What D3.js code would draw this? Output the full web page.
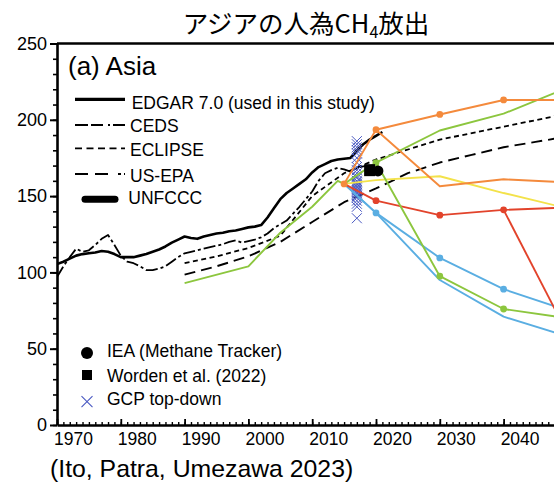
<!DOCTYPE html>
<html>
<head>
<meta charset="utf-8">
<script src="https://cdn.jsdelivr.net/npm/d3@7"></script>
<style>
  body { margin: 0; background: #fff; }
  svg { display: block; }
</style>
</head>
<body>
<svg id="chart" width="554" height="483"></svg>
<script>
// ---- data (Mt CH4 / yr) ----
const edgarYears = d3.range(1970, 2022);
const edgarValues = [105.5, 107, 109, 111, 112, 112.5, 113, 114, 113.5, 112,
  110, 110, 110, 111, 112, 113.5, 115, 117, 119.5, 121.5,
  123.5, 122.5, 122, 123.5, 124.5, 125.5, 126, 127, 127.5, 128.5,
  129.5, 130, 131, 136, 142, 148, 152, 155, 158, 161,
  165.5, 169, 171, 173, 174, 174.5, 175, 180, 184, 187,
  189.5, 192];

const cedsYears = d3.range(1970, 2020);
const cedsValues = [97, 104, 110, 115.5, 113.5, 114.5, 118, 122, 124.5, 118,
  111, 107, 106, 104, 101.5, 101.5, 102.5, 104, 107, 110,
  112.5, 113.5, 114.5, 115.5, 116.5, 117.5, 118.5, 120, 121, 119.5,
  120.5, 121.5, 123, 125.5, 129, 131.5, 134, 138.5, 143, 148,
  153, 160, 165, 167, 168.5, 167.5, 166, 168.5, 169.5, 170];

const eclipseYears = [1990, 1995, 2000, 2005, 2010, 2015, 2020, 2030, 2040, 2050];
const eclipseValues = [106, 110.5, 116, 124, 150, 165, 174, 187, 195.5, 204];

const usepaYears = [1990, 1995, 2000, 2005, 2010, 2015, 2020, 2025, 2030, 2035, 2040, 2045, 2050];
const usepaValues = [98.5, 104, 110.5, 120, 133, 146, 155, 165, 172, 177, 182, 185.5, 189];

const greenHistYears = [1990, 2000, 2005, 2010, 2014, 2015];
const greenHistValues = [93, 104, 126, 143, 160, 158];

// scenario pathways
const orangeUpYears = [2015, 2020, 2030, 2040, 2050];
const orangeUpValues = [158, 193.5, 203.5, 213, 213];
const orangeDownYears = [2020, 2030, 2040, 2050];
const orangeDownValues = [193.5, 156.5, 161, 159];
const greenUpYears = [2015, 2020, 2030, 2040, 2050];
const greenUpValues = [158, 172, 193, 204, 221];
const greenDownYears = [2020, 2030, 2040, 2050];
const greenDownValues = [172, 97.5, 76, 70];
const yellowYears = [2015, 2020, 2030, 2040, 2050];
const yellowValues = [158, 160.5, 163, 152, 142];
const redFlatYears = [2015, 2020, 2030, 2040, 2050];
const redFlatValues = [158, 147, 137.5, 141, 142.5];
const redDownYears = [2040, 2050];
const redDownValues = [141, 60];
const blueUpperYears = [2015, 2020, 2030, 2040, 2050];
const blueUpperValues = [158, 139, 109.5, 89, 75];
const blueLowerYears = [2015, 2020, 2030, 2040, 2050];
const blueLowerValues = [158, 139, 95, 71, 58];

// years that carry a dot marker
const orangeDots = [2015, 2020, 2030, 2040];
const greenUpDots = [2020];
const greenDownDots = [2030, 2040];
const redDots = [2020, 2030, 2040];
const blueDots = [2020, 2030, 2040];

// point estimates
const gcpYear = 2017;
const gcpValues = [186, 184, 182, 180, 178, 175, 172, 169, 167, 165, 163, 162,
  160, 159, 158, 157, 156, 155, 154, 153, 152, 151, 150, 149, 147, 145, 143, 135.5];
const wordenYear = 2019, wordenValue = 167;
const ieaYear = 2020.3, ieaValue = 166.5;
const unfcccYears = [2019, 2020.3];
const unfcccValues = [167, 166.5];

const yTicks = [0, 50, 100, 150, 200, 250];
const xTicks = [1970, 1980, 1990, 2000, 2010, 2020, 2030, 2040];

const legendTop = ["EDGAR 7.0 (used in this study)", "CEDS", "ECLIPSE", "US-EPA", "UNFCCC"];
const legendBottom = ["IEA (Methane Tracker)", "Worden et al. (2022)", "GCP top-down"];

// ---- chart ----
const font = "'Liberation Sans', Arial, Helvetica, sans-serif";
const svg = d3.select("#chart");

const x = d3.scaleLinear().domain([1970, 2047.9]).range([57, 554]);
const y = d3.scaleLinear().domain([0, 250]).range([425, 43.5]);

const zip = (xs, vs) => xs.map((d, i) => [d, vs[i]]);
const line = d3.line().x(d => x(d[0])).y(d => y(d[1]));

svg.append("clipPath").attr("id", "plot")
  .append("rect").attr("x", 57).attr("y", 43).attr("width", 497).attr("height", 383);

const plot = svg.append("g").attr("clip-path", "url(#plot)");

// black inventories
const blackSeries = [
  { pts: zip(cedsYears, cedsValues), dash: "12,3,3,3", w: 1.8 },
  { pts: zip(eclipseYears, eclipseValues), dash: "5,3.5", w: 1.8 },
  { pts: zip(usepaYears, usepaValues), dash: "11,6", w: 1.9 },
  { pts: zip(edgarYears, edgarValues), dash: null, w: 2.6 }
];

// coloured pathways
const colourSeries = [
  { pts: zip(greenHistYears, greenHistValues), c: "#8cc63e" },
  { pts: zip(yellowYears, yellowValues), c: "#f3e24a" },
  { pts: zip(blueLowerYears, blueLowerValues), c: "#5aaee2" },
  { pts: zip(blueUpperYears, blueUpperValues), c: "#5aaee2", dots: blueDots },
  { pts: zip(redDownYears, redDownValues), c: "#e2432b" },
  { pts: zip(redFlatYears, redFlatValues), c: "#e2432b", dots: redDots },
  { pts: zip(greenDownYears, greenDownValues), c: "#8cc63e", dots: greenDownDots },
  { pts: zip(greenUpYears, greenUpValues), c: "#8cc63e", dots: greenUpDots },
  { pts: zip(orangeDownYears, orangeDownValues), c: "#f48a3c" },
  { pts: zip(orangeUpYears, orangeUpValues), c: "#f48a3c", dots: orangeDots }
];

plot.selectAll(".black").data(blackSeries).enter().append("path")
  .attr("d", d => line(d.pts))
  .attr("fill", "none")
  .attr("stroke", "#000")
  .attr("stroke-width", d => d.w)
  .attr("stroke-dasharray", d => d.dash)
  .attr("stroke-linejoin", "round");

// GCP top-down crosses
const cx = x(gcpYear);
plot.selectAll(".gcp").data(gcpValues).enter().append("path")
  .attr("d", v => `M${cx - 5},${y(v) - 5}L${cx + 5},${y(v) + 5}M${cx - 5},${y(v) + 5}L${cx + 5},${y(v) - 5}`)
  .attr("stroke", "#4a59c2")
  .attr("stroke-width", 1)
  .attr("fill", "none");

colourSeries.forEach(s => {
  plot.append("path")
    .attr("d", line(s.pts))
    .attr("fill", "none")
    .attr("stroke", s.c)
    .attr("stroke-width", 1.9)
    .attr("stroke-linejoin", "round");
  if (s.dots) {
    plot.selectAll(null).data(s.pts.filter(p => s.dots.includes(p[0]))).enter()
      .append("circle")
      .attr("cx", d => x(d[0])).attr("cy", d => y(d[1])).attr("r", 3.4)
      .attr("fill", s.c);
  }
});

// UNFCCC / Worden / IEA
plot.append("path")
  .attr("d", line(zip(unfcccYears, unfcccValues)))
  .attr("stroke", "#000").attr("stroke-width", 7).attr("stroke-linecap", "round");
plot.append("rect")
  .attr("x", x(wordenYear) - 5.5).attr("y", y(wordenValue) - 6)
  .attr("width", 11).attr("height", 12).attr("fill", "#000");
plot.append("circle")
  .attr("cx", x(ieaYear)).attr("cy", y(ieaValue)).attr("r", 5.5).attr("fill", "#000");

// ---- axes ----
const yMinor = svg.append("g").attr("transform", "translate(57,0)")
  .call(d3.axisLeft(y).tickValues(d3.range(0, 251, 10)).tickSize(4).tickFormat(""));
yMinor.select(".domain").remove();
yMinor.selectAll("line").attr("stroke-width", 1.6);

const yAxis = svg.append("g").attr("transform", "translate(57,0)")
  .call(d3.axisLeft(y).tickValues(yTicks).tickSize(7).tickSizeOuter(0).tickPadding(3));
yAxis.select(".domain").attr("stroke-width", 2.6);
yAxis.selectAll(".tick line").attr("stroke-width", 2);
yAxis.selectAll("text").style("font-family", font).style("font-size", "18px").attr("fill", "#000");

const xMinor = svg.append("g").attr("transform", "translate(0,425)")
  .call(d3.axisBottom(x).tickValues(d3.range(1970, 2048)).tickSizeInner(-3).tickSizeOuter(0).tickFormat(""));
xMinor.select(".domain").remove();
xMinor.selectAll("line").attr("stroke-width", 1.4);

const xAxis = svg.append("g").attr("transform", "translate(0,425)")
  .call(d3.axisBottom(x).tickValues(xTicks).tickSizeInner(-6).tickSizeOuter(0).tickPadding(8).tickFormat(d3.format("d")));
xAxis.select(".domain").attr("stroke-width", 2.6);
xAxis.selectAll(".tick line").attr("stroke-width", 1.8);
xAxis.selectAll("text").attr("x", 16)
  .style("font-family", font).style("font-size", "17.5px").attr("fill", "#000");

// top frame
svg.append("line")
  .attr("x1", 57).attr("x2", 554).attr("y1", y(250)).attr("y2", y(250))
  .attr("stroke", "#000").attr("stroke-width", 2.6);

// ---- texts ----
const title = svg.append("text")
  .attr("x", 306).attr("y", 33).attr("text-anchor", "middle")
  .style("font-family", "'Noto Sans CJK JP', 'Noto Sans', sans-serif")
  .style("font-size", "25.5px").attr("fill", "#000");
title.append("tspan").text("アジアの人為CH");
title.append("tspan").attr("dy", 5).style("font-size", "16px").text("4");
title.append("tspan").attr("dy", -5).text("放出");

svg.append("text").attr("x", 68).attr("y", 75)
  .style("font-family", font).style("font-size", "26px").text("(a) Asia");

svg.append("text").attr("x", 50).attr("y", 477)
  .style("font-family", font).style("font-size", "24.8px").text("(Ito, Patra, Umezawa 2023)");

// upper legend
const topRows = [
  { ly: 99.3, ty: 109, tx: 131.7, x1: 75, x2: 125, dash: null, w: 3.2, cap: "butt" },
  { ly: 125, ty: 131.7, tx: 130, x1: 75, x2: 125, dash: "13,3,12,5,2,3", w: 1.8, cap: "butt" },
  { ly: 148.3, ty: 156, tx: 130, x1: 75, x2: 125, dash: "7,4.5", w: 1.8, cap: "butt" },
  { ly: 174, ty: 181.7, tx: 130, x1: 75, x2: 125, dash: "13,7,13,10,3,3", w: 1.9, cap: "butt" },
  { ly: 199.3, ty: 204, tx: 128.3, x1: 85, x2: 115, dash: null, w: 7, cap: "round" }
];
legendTop.forEach((label, i) => {
  const r = topRows[i];
  svg.append("line").attr("x1", r.x1).attr("x2", r.x2).attr("y1", r.ly).attr("y2", r.ly)
    .attr("stroke", "#000").attr("stroke-width", r.w)
    .attr("stroke-dasharray", r.dash).attr("stroke-linecap", r.cap);
  svg.append("text").attr("x", r.tx).attr("y", r.ty)
    .style("font-family", font).style("font-size", "17.5px").text(label);
});

// lower legend
const lowRows = [353, 375, 401.7];
const lowText = [357.3, 381.7, 405];
legendBottom.forEach((label, i) => {
  svg.append("text").attr("x", 107).attr("y", lowText[i])
    .style("font-family", font).style("font-size", "17.5px").text(label);
});
svg.append("circle").attr("cx", 87).attr("cy", lowRows[0]).attr("r", 6).attr("fill", "#000");
svg.append("rect").attr("x", 82).attr("y", lowRows[1] - 5).attr("width", 10).attr("height", 10).attr("fill", "#000");
svg.append("path")
  .attr("d", `M81.5,${lowRows[2] - 5.5}L92.5,${lowRows[2] + 5.5}M81.5,${lowRows[2] + 5.5}L92.5,${lowRows[2] - 5.5}`)
  .attr("stroke", "#4a59c2").attr("stroke-width", 1.1);
</script>
</body>
</html>
